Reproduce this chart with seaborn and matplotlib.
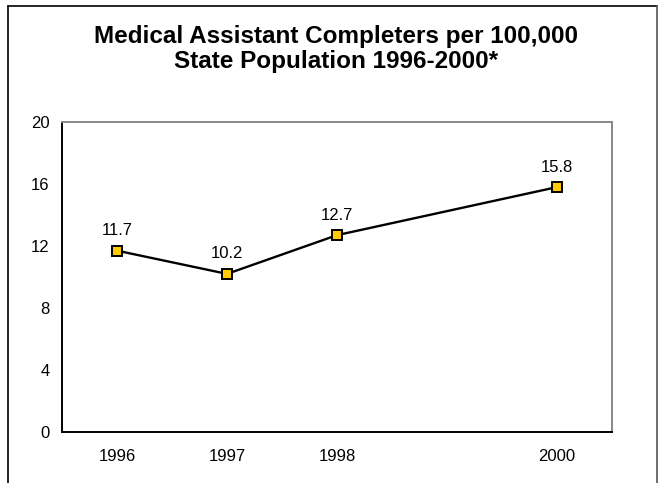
import matplotlib
matplotlib.use("Agg")
import matplotlib.pyplot as plt
import seaborn as sns
import pandas as pd
from matplotlib.lines import Line2D

# Data
years = [1996, 1997, 1998, 2000]
rates = [11.7, 10.2, 12.7, 15.8]
yticks = [0, 4, 8, 12, 16, 20]

df = pd.DataFrame({"year": years, "rate": rates})

sns.set_style("white")
plt.rcParams['font.family'] = ['Liberation Sans', 'DejaVu Sans']
plt.rcParams['text.color'] = 'black'
plt.rcParams['xtick.color'] = 'black'
plt.rcParams['ytick.color'] = 'black'

fig = plt.figure(figsize=(6.63, 4.83), dpi=100)
ax = fig.add_axes([62/663, 1 - 432/483, 550/663, 310/483])

sns.lineplot(x="year", y="rate", data=df, ax=ax, color="black", linewidth=1.7,
             marker="s", markersize=7, markerfacecolor="#FFCC00",
             markeredgecolor="black", markeredgewidth=1.4)

for x, y in zip(years, rates):
    ax.text(x, y + 1.0, f"{y:.1f}", ha="center", va="baseline", fontsize=12)

ax.set_xlim(1995.5, 2000.5)
ax.set_ylim(0, 20)
ax.set_xticks(years)
ax.set_xticklabels([str(y) for y in years], fontsize=12)
ax.set_yticks(yticks)
ax.set_yticklabels([str(t) for t in yticks], fontsize=12)
ax.tick_params(axis="y", length=5, width=1, color="black", direction="out", pad=4)
ax.tick_params(axis="x", length=0, pad=12)
ax.set_xlabel("")
ax.set_ylabel("")

for side in ["left", "bottom"]:
    ax.spines[side].set_color("black")
    ax.spines[side].set_linewidth(1.4)
for side in ["top", "right"]:
    ax.spines[side].set_color("#888888")
    ax.spines[side].set_linewidth(1.4)

fig.text(336/663, 1 - 49/483, "Medical Assistant Completers per 100,000\nState Population 1996-2000*",
         ha="center", va="center", fontsize=17.5, fontweight="bold", linespacing=1.12)

# outer frame of the chart area
W, H = 663, 483
fig.add_artist(Line2D([8/W, 8/W], [0, 1 - 6/H], color="black", lw=1.2, transform=fig.transFigure))
fig.add_artist(Line2D([8/W, 657/W], [1 - 6/H, 1 - 6/H], color="black", lw=1.2, transform=fig.transFigure))
fig.add_artist(Line2D([657/W, 657/W], [0, 1 - 6/H], color="#555555", lw=1.2, transform=fig.transFigure))

fig.savefig("out.png", dpi=100)
